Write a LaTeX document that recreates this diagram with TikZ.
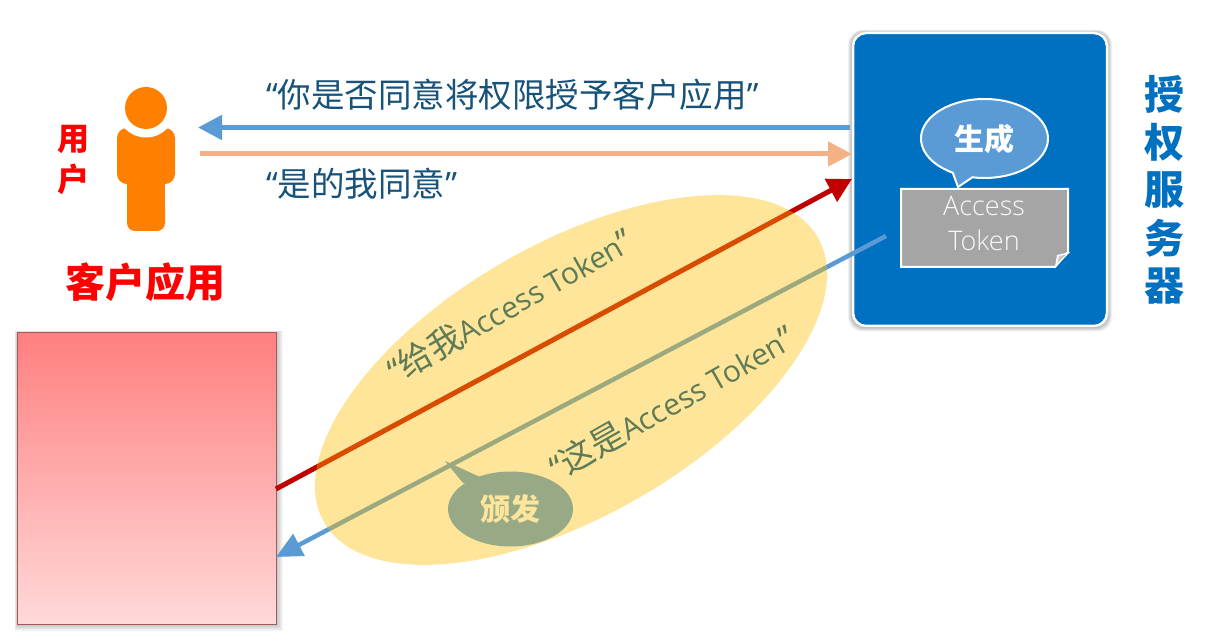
\documentclass[tikz,border=0pt]{standalone}
\usepackage{fontspec}
\usetikzlibrary{arrows.meta,shapes.geometric}
\setmainfont{Open Sans}
\newfontfamily\cjk{Noto Sans CJK SC}
\newfontfamily\latin{Open Sans}
\newfontfamily\latlight{Open Sans Light}
\newcommand{\qa}{{\latin “}}
\newcommand{\qb}{{\latin ”}}
\newcommand{\at}[1]{{\latin\fontsize{30}{30}\selectfont #1}}
\definecolor{srv}{HTML}{0070C0}
\definecolor{lblue}{HTML}{5B9BD5}
\definecolor{peach}{HTML}{F4B183}
\definecolor{dkred}{HTML}{C00000}
\definecolor{ink}{HTML}{17527A}
\definecolor{inkoval}{HTML}{5E7B57}
\definecolor{person}{HTML}{FF7F00}
\definecolor{oval}{HTML}{FFC000}
\definecolor{sage}{HTML}{97A985}
\definecolor{pale}{HTML}{FDE59B}
\definecolor{tok}{HTML}{A5A5A5}
\tikzset{
 arrowline/.style={line width=#1,line cap=butt},
 quote/.style={font=\cjk\fontsize{33.5}{33.5}\selectfont,text=ink,inner sep=0pt},
 slanted/.style={font=\cjk\fontsize{34}{34}\selectfont,text=inkoval,inner sep=0pt,rotate=29.5},
 vchar/.style={font=\cjk\bfseries\fontsize{#1}{#1}\selectfont,inner sep=0pt},
}
\begin{document}
\begin{tikzpicture}[x=1pt,y=-1pt]
\useasboundingbox (0,0) rectangle (1211,644);
\fill[white] (0,0) rectangle (1211,644);
% soft shadows
\foreach \g in {1,2,...,6}{
  \fill[black,opacity=.035] (17-\g*.4,333-\g*.4) rectangle (276+1+\g,624+1+\g);
  \fill[black,opacity=.06,rounded corners=14pt] (853-\g*.8,33-\g*.5) rectangle (1107+\g*.8,326+\g*.9);
}
% red client box
\node[anchor=north west,minimum width=259pt,minimum height=291pt,inner sep=0pt,outer sep=0pt,draw=red!45!black!65,line width=1pt,
  top color=red!50,bottom color=red!15] (client) at (17,333) {};
% server box
\node[anchor=north west,minimum width=254pt,minimum height=293pt,inner sep=0pt,outer sep=0pt,rounded corners=13pt,
  draw=white,line width=2.5pt,fill=srv] (server) at (853,33) {};
% person
\fill[person,rounded corners=10pt] (117,128) rectangle (175,184);
\fill[person] (127,172) rectangle (165,220);
\fill[person,rounded corners=8pt] (127,200) rectangle (165,231);
\fill[white] (146,108) circle[radius=29.5];
\node[circle,fill=person,minimum size=42pt,inner sep=0pt] (head) at (146,108) {};
% coordinates for connector ends
\coordinate (a1) at (850,127.5); \coordinate (a2) at (198,127.5);
\coordinate (b1) at (200,154); \coordinate (b2) at (852,154);
\coordinate (c1) at (276,489); \coordinate (c2) at (852,179);
\coordinate (d1) at (886,236); \coordinate (d2) at (276,557);
\draw[lblue,arrowline=5pt,-{Triangle[length=24pt,width=24pt]}] (a1) -- (a2);
\draw[peach,arrowline=5pt,-{Triangle[length=24pt,width=24pt]}] (b1) -- (b2);
\draw[dkred,arrowline=5pt,-{Triangle[length=24pt,width=25pt]}] (c1) -- (c2);
\draw[lblue,arrowline=4.5pt,-{Triangle[length=26pt,width=24pt]}] (d1) -- (d2);
% texts
\node[quote,anchor=west] (t1) at (266,95) {\qa 你是否同意将权限授予客户应用\qb};
\node[quote,anchor=west] (t2) at (266,184) {\qa 是的我同意\qb};
% translucent oval
\node[ellipse,rotate=30,minimum width=570pt,minimum height=272pt,inner sep=0pt,fill=oval,fill opacity=.4] (oval) at (571,380) {};
\node[slanted] (t3) at (510,305) {\qa 给我\at{Access Token}\qb};
\node[slanted] (t4) at (672,402) {\qa 这是\at{Access Token}\qb};
% issue bubble
\fill[sage] (463,483) -- (445,461) -- (480,477) -- (500,490) -- cycle;
\node[ellipse,fill=sage,minimum width=125pt,minimum height=75pt,inner sep=0pt,text=pale,font=\cjk\bfseries\fontsize{30}{30}\selectfont] (issue) at (510.5,509) {颁发};
% token
\draw[white,line width=2pt,fill=tok,line join=miter] (901,189) -- (1068,189) -- (1068,252) -- (1055,267) -- (901,267) -- cycle;
\fill[white] (1070,252) -- (1055,267) -- (1057,255) -- cycle;
\fill[tok!60!white] (1066,254.5) -- (1057.5,263) -- (1059,256) -- cycle;
\node[inner sep=0pt,align=center,text=white!92!tok,font=\latlight\fontsize{27}{35}\selectfont] (token) at (984,223) {Access\\Token};
% generate bubble
\draw[white,line width=2pt,fill=lblue] (984.5,138.5) ++(120:63.5 and 39.5) arc[start angle=120,end angle=461,x radius=63.5,y radius=39.5] -- (958,187) -- cycle;
\node[inner sep=0pt,text=white,font=\cjk\bfseries\fontsize{30}{30}\selectfont] (gen) at (984.5,139) {生成};
% labels
\node[vchar=32,text=red] (u1) at (73,139) {用};
\node[vchar=32,text=red] (u2) at (73,179) {户};
\node[vchar=40,text=red] (app) at (145,282) {客户应用};
\node[vchar=40,text=srv] (s1) at (1164,94) {授};
\node[vchar=40,text=srv] (s2) at (1164,142) {权};
\node[vchar=40,text=srv] (s3) at (1164,190) {服};
\node[vchar=40,text=srv] (s4) at (1164,238) {务};
\node[vchar=40,text=srv] (s5) at (1164,286) {器};
\end{tikzpicture}
\end{document}
